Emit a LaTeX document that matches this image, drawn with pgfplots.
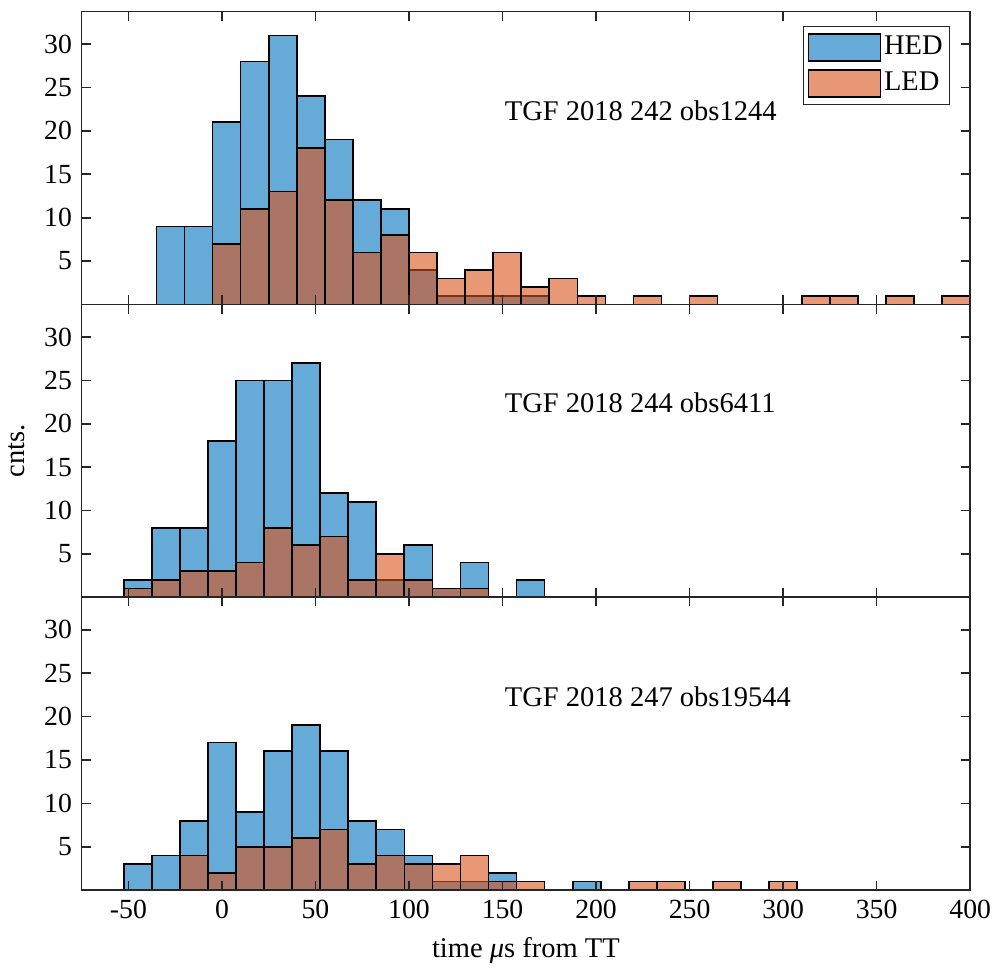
\documentclass[border=0pt]{standalone}
\usepackage{fontspec}
\setmainfont{Liberation Serif}
\usepackage{pgfplots}
\pgfplotsset{compat=1.18}
\definecolor{hedblue}{HTML}{0072BD}
\definecolor{ledorange}{HTML}{D95319}
\definecolor{mlaxis}{HTML}{262626}
\pgfplotsset{
  panel/.style={
    scale only axis,
    width=321pt, height=105.8pt,
    xmin=-75, xmax=400, ymin=0, ymax=33.75,
    xtick={-50,0,...,400}, ytick={5,10,...,30},
    tick align=inside, xtick pos=both, ytick pos=both,
    major tick length=3.3pt,
    every tick/.style={mlaxis, line width=0.6pt},
    axis line style={mlaxis, line width=0.6pt},
    tick label style={font=\fontsize{10}{12}\selectfont, text=black},
    label style={font=\fontsize{10.3}{12}\selectfont},
    /pgf/number format/assume math mode=true,
    axis on top,
  },
  histbar/.style={
    ybar interval, fill=#1, fill opacity=0.6, draw=black, line width=0.6pt,
    legend image code/.code={\draw[##1] (0pt,-4.9pt) rectangle (26pt,4.9pt);},
  },
}
\tikzset{tgftag/.style={anchor=west, inner sep=0pt, font=\fontsize{10.3}{12}\selectfont}}

\begin{document}
\begin{tikzpicture}
\useasboundingbox (-29.5pt,-27.8pt) rectangle (332.5pt,321.6pt);

% TGF 2018 247
\begin{axis}[panel, name=bot, at={(0pt,0pt)}, anchor=south west,
  xlabel={time \textit{μ}s from TT}]
\addplot[histbar=hedblue] coordinates {
  (-52.5,3) (-37.5,4) (-22.5,8) (-7.5,17) (7.5,9) (22.5,16) (37.5,19)
  (52.5,16) (67.5,8) (82.5,7) (97.5,4) (112.5,1) (127.5,1) (142.5,2)
  (157.5,0) (172.5,0) (187.5,1) (202.5,1)};
\addplot[histbar=ledorange] coordinates {
  (-22.5,4) (-7.5,2) (7.5,5) (22.5,5) (37.5,6) (52.5,7) (67.5,3)
  (82.5,4) (97.5,3) (112.5,3) (127.5,4) (142.5,1) (157.5,1) (172.5,0)
  (187.5,0) (202.5,0) (217.5,1) (232.5,1) (247.5,0) (262.5,1) (277.5,0)
  (292.5,1) (307.5,1)};
\node[tgftag] at (axis cs:151,22.3) {TGF 2018 247 obs19544};
\end{axis}

% TGF 2018 244
\begin{axis}[panel, name=mid, at={(0pt,105.8pt)}, anchor=south west,
  xticklabels={}, ylabel={cnts.}]
\addplot[histbar=hedblue] coordinates {
  (-52.5,2) (-37.5,8) (-22.5,8) (-7.5,18) (7.5,25) (22.5,25) (37.5,27)
  (52.5,12) (67.5,11) (82.5,2) (97.5,6) (112.5,1) (127.5,4) (142.5,0)
  (157.5,2) (172.5,2)};
\addplot[histbar=ledorange] coordinates {
  (-52.5,1) (-37.5,2) (-22.5,3) (-7.5,3) (7.5,4) (22.5,8) (37.5,6)
  (52.5,7) (67.5,2) (82.5,5) (97.5,2) (112.5,1) (127.5,1) (142.5,1)};
\node[tgftag] at (axis cs:151,22.4) {TGF 2018 244 obs6411};
\end{axis}

% TGF 2018 242
\begin{axis}[panel, name=top, at={(0pt,211.6pt)}, anchor=south west,
  xticklabels={},
  legend style={at={(1,1)}, anchor=north east, xshift=-7.2pt, yshift=-5.2pt,
    draw=mlaxis, line width=0.5pt, fill=white,
    font=\fontsize{10.3}{12}\selectfont,
    inner xsep=1.5pt, inner ysep=2.3pt, row sep=2.6pt,
    nodes={inner sep=1pt}},
  legend cell align=left]
\addplot[histbar=hedblue] coordinates {
  (-35,9) (-20,9) (-5,21) (10,28) (25,31) (40,24) (55,19) (70,12)
  (85,11) (100,4) (115,1) (130,1) (145,1) (160,1) (175,1)};
\addplot[histbar=ledorange] coordinates {
  (-5,7) (10,11) (25,13) (40,18) (55,12) (70,6) (85,8) (100,6) (115,3)
  (130,4) (145,6) (160,2) (175,3) (190,1) (205,0) (220,1) (235,0)
  (250,1) (265,0) (280,0) (295,0) (310,1) (325,1) (340,0) (355,1)
  (370,0) (385,1) (400,1)};
\legend{HED, LED}
\node[tgftag] at (axis cs:151,22.3) {TGF 2018 242 obs1244};
\end{axis}
\end{tikzpicture}
\end{document}
